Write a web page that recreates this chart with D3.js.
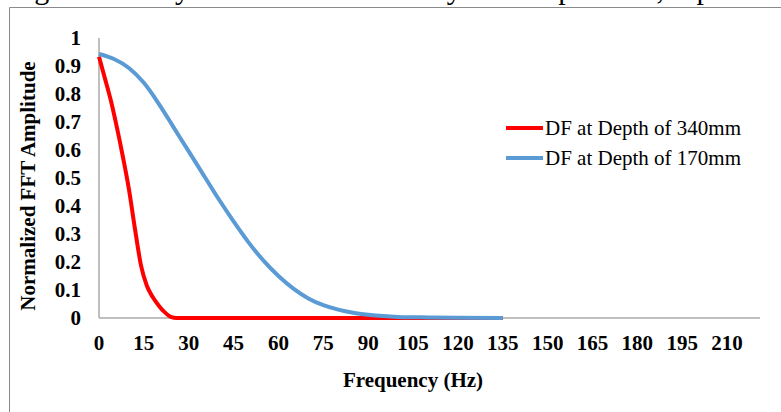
<!DOCTYPE html>
<html>
<head>
<meta charset="utf-8">
<script src="https://cdn.jsdelivr.net/npm/d3@7"></script>
<style>
  body { margin: 0; background: #fff; }
  svg { display: block; }
</style>
</head>
<body>
<div id="chart"></div>
<script>
// values
var freqRed   = [0, 2, 4, 6, 8, 10, 12, 14, 16, 18, 20, 22, 24, 26, 30, 45, 60, 75, 90, 105, 120, 135];
var ampRed    = [0.933, 0.855, 0.775, 0.68, 0.575, 0.46, 0.32, 0.19, 0.115, 0.074, 0.044, 0.02, 0.004, 0, 0, 0, 0, 0, 0, 0, 0, 0];
var freqBlue  = [0, 5, 10, 15, 20, 25, 30, 35, 40, 45, 50, 55, 60, 65, 70, 75, 80, 85, 90, 95, 100, 110, 120, 135];
var ampBlue   = [0.943, 0.925, 0.893, 0.84, 0.765, 0.68, 0.595, 0.51, 0.425, 0.345, 0.27, 0.205, 0.15, 0.105, 0.07, 0.046, 0.03, 0.019, 0.012, 0.007, 0.004, 0.002, 0.001, 0];
var xTicks = [0, 15, 30, 45, 60, 75, 90, 105, 120, 135, 150, 165, 180, 195, 210];
var yTicks = [0, 0.1, 0.2, 0.3, 0.4, 0.5, 0.6, 0.7, 0.8, 0.9, 1];
var seriesNames = ["DF at Depth of 340mm", "DF at Depth of 170mm"];
var seriesColors = ["#ff0000", "#5b9bd5"];

var width = 781, height = 412;
var padLeft = 99, padRight = 760, padTop = 38, padBottom = 318;

var svg = d3.select("#chart").append("svg")
    .attr("width", width)
    .attr("height", height);

var serif = "Liberation Serif, Times New Roman, serif";

// bit of the document text cut off above the figure
svg.append("text")
    .attr("x", -4)
    .attr("y", -1)
    .style("font-family", serif)
    .style("font-size", "30px")
    .text("ological activity was not influenced by the temperature, especi");

svg.append("rect").attr("x", 0).attr("y", 7).attr("width", width).attr("height", height).style("fill", "#fff");

// frame of the figure
svg.append("line").attr("x1", 9.5).attr("x2", 9.5).attr("y1", 7.5).attr("y2", height)
    .style("stroke", "#8a8a8a");
svg.append("line").attr("x1", 9.5).attr("x2", width).attr("y1", 7.5).attr("y2", 7.5)
    .style("stroke", "#8a8a8a");

var x = d3.scaleLinear().domain([0, 221]).range([padLeft, padRight]);
var y = d3.scaleLinear().domain([0, 1]).range([padBottom, padTop]);

// axes lines
svg.append("line").attr("x1", padLeft).attr("x2", padLeft).attr("y1", padTop).attr("y2", padBottom)
    .style("stroke", "#bfbfbf").style("stroke-width", 2);
svg.append("line").attr("x1", padLeft).attr("x2", padRight).attr("y1", padBottom).attr("y2", padBottom)
    .style("stroke", "#bfbfbf").style("stroke-width", 2);

svg.selectAll(".ytick").data(yTicks).enter().append("text")
    .attr("class", "ytick")
    .attr("x", 81)
    .attr("y", function(d){ return y(d); })
    .attr("dy", "0.35em")
    .attr("text-anchor", "end")
    .style("font-family", serif).style("font-weight", "bold").style("font-size", "21px")
    .text(function(d){ return d3.format("~g")(d); });

svg.selectAll(".xtick").data(xTicks).enter().append("text")
    .attr("class", "xtick")
    .attr("x", function(d){ return x(d); })
    .attr("y", 350)
    .attr("text-anchor", "middle")
    .style("font-family", serif).style("font-weight", "bold").style("font-size", "21px")
    .text(function(d){ return d; });

svg.append("text")
    .attr("x", 413).attr("y", 387)
    .attr("text-anchor", "middle")
    .style("font-family", serif).style("font-weight", "bold").style("font-size", "21px")
    .text("Frequency (Hz)");

svg.append("text")
    .attr("transform", "translate(35,186) rotate(-90)")
    .attr("text-anchor", "middle")
    .style("font-family", serif).style("font-weight", "bold").style("font-size", "21px")
    .text("Normalized FFT Amplitude");

var line = d3.line()
    .x(function(d){ return x(d[0]); })
    .y(function(d){ return y(d[1]); })
    .curve(d3.curveMonotoneX);

var series = [d3.zip(freqRed, ampRed), d3.zip(freqBlue, ampBlue)];

series.forEach(function(s, i){
    svg.append("path")
        .datum(s)
        .attr("d", line)
        .style("fill", "none")
        .style("stroke", seriesColors[i])
        .style("stroke-width", 4)
        .style("stroke-linejoin", "round");
});

// legend
seriesNames.forEach(function(name, i){
    var ly = 128 + i * 30;
    svg.append("line")
        .attr("x1", 506).attr("x2", 543).attr("y1", ly).attr("y2", ly)
        .style("stroke", seriesColors[i]).style("stroke-width", 4);
    svg.append("text")
        .attr("x", 545).attr("y", ly)
        .attr("dy", "0.35em")
        .style("font-family", serif).style("font-size", "21px")
        .text(name);
});
</script>
</body>
</html>
